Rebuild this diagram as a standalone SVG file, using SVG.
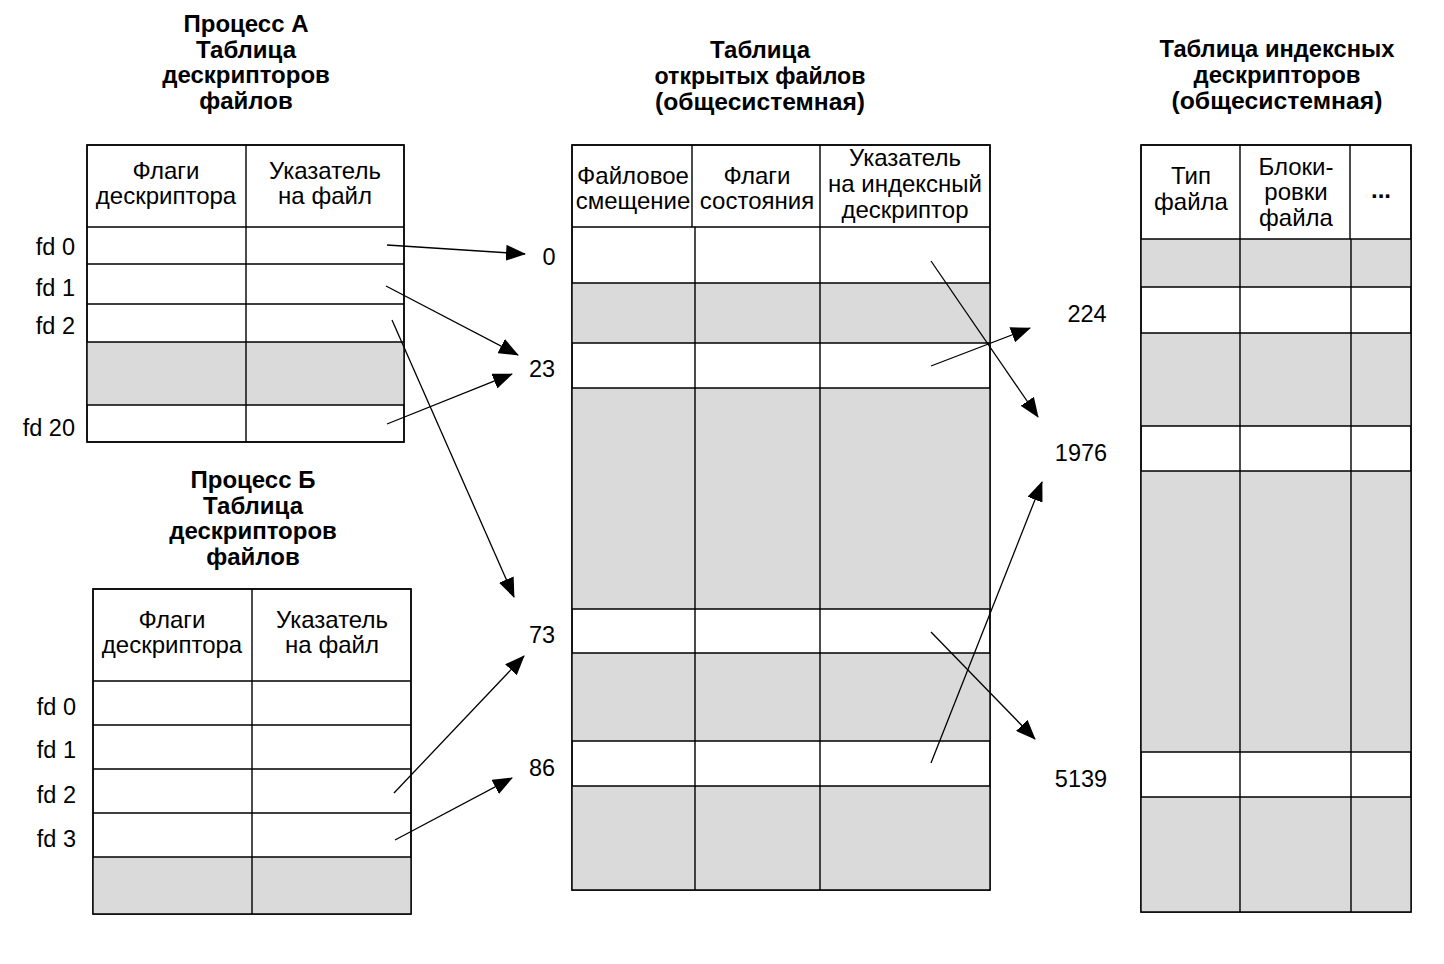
<svg xmlns="http://www.w3.org/2000/svg" width="1444" height="964" viewBox="0 0 1444 964">
<style>
text{font-family:"Liberation Sans",Arial,sans-serif;fill:#000}
.t{font-size:24px;font-weight:bold;text-anchor:middle}
.tc{font-size:23px;font-weight:bold;text-anchor:middle}
.h{font-size:24px;text-anchor:middle}
.fd{font-size:23.5px;text-anchor:end}
.n{font-size:23.5px;text-anchor:middle}
.g{fill:#dadada;stroke:none}
.ln{stroke:#000;stroke-width:1.4;fill:none}
.box{fill:#fff;stroke:#000;stroke-width:1.4}
.arr{stroke:#000;stroke-width:1.3;fill:none;marker-end:url(#ah)}
</style>
<defs>
<marker id="ah" viewBox="0 0 20 16" refX="19" refY="8" markerWidth="20" markerHeight="16" markerUnits="userSpaceOnUse" orient="auto">
<path d="M0,0 L20,8 L0,16 Z" fill="#000"/>
</marker>
</defs>
<rect width="1444" height="964" fill="#fff"/>

<g id="procA">
<text class="t" x="246" y="32">Процесс А</text>
<text class="t" x="246" y="57.5">Таблица</text>
<text class="t" x="246" y="83">дескрипторов</text>
<text class="t" x="246" y="108.5">файлов</text>
<rect class="box" x="87" y="145" width="317" height="297"/>
<rect class="g" x="87" y="342" width="317" height="63"/>
<path class="ln" d="M87,145H404V442H87Z M246,145V442 M87,227H404 M87,264H404 M87,304H404 M87,342H404 M87,405H404"/>
<text class="h" x="166" y="179">Флаги</text>
<text class="h" x="166" y="204">дескриптора</text>
<text class="h" x="325" y="179">Указатель</text>
<text class="h" x="325" y="204">на файл</text>
<text class="fd" x="75" y="254.5">fd 0</text>
<text class="fd" x="75" y="295.5">fd 1</text>
<text class="fd" x="75" y="333.5">fd 2</text>
<text class="fd" x="75" y="435.5">fd 20</text>
</g>

<g id="procB">
<text class="t" x="253" y="488">Процесс Б</text>
<text class="t" x="253" y="513.5">Таблица</text>
<text class="t" x="253" y="539">дескрипторов</text>
<text class="t" x="253" y="564.5">файлов</text>
<rect class="box" x="93" y="589" width="318" height="325"/>
<rect class="g" x="93" y="857" width="318" height="57"/>
<path class="ln" d="M93,589H411V914H93Z M252,589V914 M93,681H411 M93,725H411 M93,769H411 M93,813H411 M93,857H411"/>
<text class="h" x="172" y="628">Флаги</text>
<text class="h" x="172" y="653">дескриптора</text>
<text class="h" x="332" y="628">Указатель</text>
<text class="h" x="332" y="653">на файл</text>
<text class="fd" x="76" y="714.5">fd 0</text>
<text class="fd" x="76" y="757.5">fd 1</text>
<text class="fd" x="76" y="802.5">fd 2</text>
<text class="fd" x="76" y="846.5">fd 3</text>
</g>

<g id="openFiles">
<text class="tc" x="760" y="58" textLength="100" lengthAdjust="spacingAndGlyphs">Таблица</text>
<text class="tc" x="760" y="84" textLength="211" lengthAdjust="spacingAndGlyphs">открытых файлов</text>
<text class="tc" x="760" y="110" textLength="210" lengthAdjust="spacingAndGlyphs">(общесистемная)</text>
<rect class="box" x="572" y="145" width="418" height="745"/>
<rect class="g" x="572" y="283" width="418" height="60"/>
<rect class="g" x="572" y="388" width="418" height="221"/>
<rect class="g" x="572" y="653" width="418" height="88"/>
<rect class="g" x="572" y="786" width="418" height="104"/>
<path class="ln" d="M572,145H990V890H572Z M692,145V227 M695,227V890 M820,145V890 M572,227H990 M572,283H990 M572,343H990 M572,388H990 M572,609H990 M572,653H990 M572,741H990 M572,786H990"/>
<text class="h" x="633" y="184">Файловое</text>
<text class="h" x="633" y="209">смещение</text>
<text class="h" x="757" y="184">Флаги</text>
<text class="h" x="757" y="209">состояния</text>
<text class="h" x="905" y="166">Указатель</text>
<text class="h" x="905" y="192">на индексный</text>
<text class="h" x="905" y="218">дескриптор</text>
<text class="n" x="549" y="264.5">0</text>
<text class="n" x="542" y="376.5">23</text>
<text class="n" x="542" y="642.5">73</text>
<text class="n" x="542" y="775.5">86</text>
</g>

<g id="inodes">
<text class="tc" x="1277" y="57" textLength="235" lengthAdjust="spacingAndGlyphs">Таблица индексных</text>
<text class="tc" x="1277" y="83" textLength="167" lengthAdjust="spacingAndGlyphs">дескрипторов</text>
<text class="tc" x="1277" y="109" textLength="211" lengthAdjust="spacingAndGlyphs">(общесистемная)</text>
<rect class="box" x="1141" y="145" width="270" height="767"/>
<rect class="g" x="1141" y="239" width="270" height="48"/>
<rect class="g" x="1141" y="333" width="270" height="93"/>
<rect class="g" x="1141" y="471" width="270" height="281"/>
<rect class="g" x="1141" y="797" width="270" height="115"/>
<path class="ln" d="M1141,145H1411V912H1141Z M1240,145V912 M1350,145V239 M1351,239V912 M1141,239H1411 M1141,287H1411 M1141,333H1411 M1141,426H1411 M1141,471H1411 M1141,752H1411 M1141,797H1411"/>
<text class="h" x="1191" y="184">Тип</text>
<text class="h" x="1191" y="210">файла</text>
<text class="h" x="1296" y="175">Блоки-</text>
<text class="h" x="1296" y="200">ровки</text>
<text class="h" x="1296" y="226">файла</text>
<text class="h" x="1381" y="198" font-weight="bold">...</text>
<text class="n" x="1087" y="321.5">224</text>
<text class="n" x="1081" y="460.5">1976</text>
<text class="n" x="1081" y="786.5">5139</text>
</g>

<g id="connectors">
<line class="arr" x1="387" y1="245" x2="525" y2="254"/>
<line class="arr" x1="386" y1="286" x2="518" y2="355"/>
<line class="arr" x1="392" y1="320" x2="514" y2="597"/>
<line class="arr" x1="387" y1="424" x2="512" y2="374"/>
<line class="arr" x1="394" y1="793" x2="524" y2="656"/>
<line class="arr" x1="395" y1="840" x2="512" y2="778"/>
<line class="arr" x1="931" y1="261" x2="1038" y2="417"/>
<line class="arr" x1="931" y1="366" x2="1030" y2="328"/>
<line class="arr" x1="931" y1="632" x2="1035" y2="739"/>
<line class="arr" x1="931" y1="763" x2="1042" y2="482"/>
</g>
</svg>
